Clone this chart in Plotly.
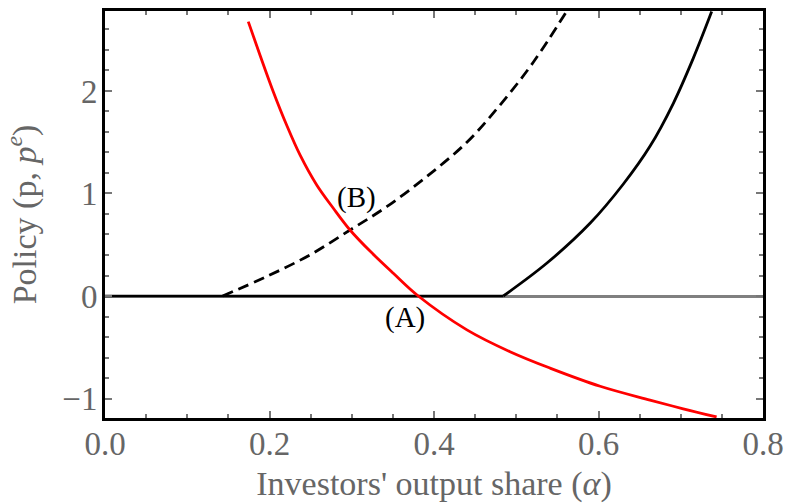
import plotly.graph_objects as go

# Red curve (p)
red_x = [0.1742, 0.1884, 0.2046, 0.2208, 0.2371, 0.2574, 0.2776, 0.2979, 0.3222, 0.3505, 0.3809,
         0.44, 0.4924, 0.541, 0.602, 0.6626, 0.703, 0.7436]
red_y = [2.676, 2.351, 1.993, 1.668, 1.376, 1.083, 0.856, 0.644, 0.438, 0.222, 0.0,
         -0.33, -0.543, -0.703, -0.880, -1.015, -1.100, -1.18]

# Dashed black curve (p^e)
dash_x = [0.0, 0.143, 0.1966, 0.249, 0.298, 0.3425, 0.391, 0.44, 0.480, 0.5207, 0.561]
dash_y = [0.0, 0.0, 0.19, 0.40, 0.644, 0.871, 1.164, 1.50, 1.86, 2.28, 2.774]

# Solid black curve
solid_x = [0.0, 0.4843, 0.537, 0.5897, 0.630, 0.6626, 0.691, 0.7153, 0.7376]
solid_y = [0.0, 0.0, 0.319, 0.709, 1.09, 1.46, 1.88, 2.32, 2.774]

x_ticks = [0.0, 0.2, 0.4, 0.6, 0.8]
y_ticks = [-1, 0, 1, 2]

FONT = "Liberation Serif"
GRAY = "#666666"

fig = go.Figure()

fig.add_trace(go.Scatter(x=solid_x[:2], y=solid_y[:2], mode="lines",
                         line=dict(color="black", width=2.5), hoverinfo="skip"))
fig.add_trace(go.Scatter(x=solid_x[1:], y=solid_y[1:], mode="lines",
                         line=dict(color="black", width=2.8, shape="spline"), hoverinfo="skip"))
fig.add_trace(go.Scatter(x=dash_x[1:], y=dash_y[1:], mode="lines",
                         line=dict(color="black", width=2.8, dash="11px,6px", shape="spline"), hoverinfo="skip"))
fig.add_trace(go.Scatter(x=red_x, y=red_y, mode="lines",
                         line=dict(color="#ff0000", width=2.8, shape="spline"), hoverinfo="skip"))

fig.add_annotation(x=0.306, y=0.956, text="(B)", showarrow=False,
                   font=dict(family=FONT, size=29, color="black"))
fig.add_annotation(x=0.365, y=-0.205, text="(A)", showarrow=False,
                   font=dict(family=FONT, size=29, color="black"))

fig.update_layout(
    width=785, height=503,
    margin=dict(l=105, r=22, t=11, b=85),
    plot_bgcolor="white", paper_bgcolor="white",
    showlegend=False,
    font=dict(family=FONT, color=GRAY, size=33),
)

fig.update_xaxes(
    range=[0, 0.8], tickvals=x_ticks, ticktext=[f"{v:.1f}" for v in x_ticks],
    showgrid=False, zeroline=False, automargin=False,
    showline=True, linecolor="black", linewidth=3, mirror="ticks",
    ticks="inside", ticklen=7, tickwidth=2, tickcolor="#777777",
    minor=dict(dtick=0.05, ticks="inside", ticklen=4, tickwidth=2, tickcolor="#777777", showgrid=False),
    tickfont=dict(family=FONT, size=33, color=GRAY), ticklabelstandoff=-6,
    title=dict(text="Investors' output share (<i>α</i>)", font=dict(family=FONT, size=34, color=GRAY), standoff=14),
)
fig.update_yaxes(
    range=[-1.19, 2.78], tickvals=y_ticks,
    showgrid=False, zeroline=True, zerolinecolor="#808080", zerolinewidth=2.5,
    showline=True, linecolor="black", linewidth=3, mirror="ticks", automargin=False,
    ticks="inside", ticklen=7, tickwidth=2, tickcolor="#777777",
    minor=dict(dtick=0.2, ticks="inside", ticklen=4, tickwidth=2, tickcolor="#777777", showgrid=False),
    tickfont=dict(family=FONT, size=33, color=GRAY), ticklabelstandoff=-2,
    title=dict(text="Policy (p, <i>p</i><sup><i>e</i></sup>)", font=dict(family=FONT, size=34, color=GRAY), standoff=16),
)

fig.write_html("out.html", config={"displayModeBar": False},
               post_script="document.body.style.margin='0';document.body.style.overflow='hidden';")
